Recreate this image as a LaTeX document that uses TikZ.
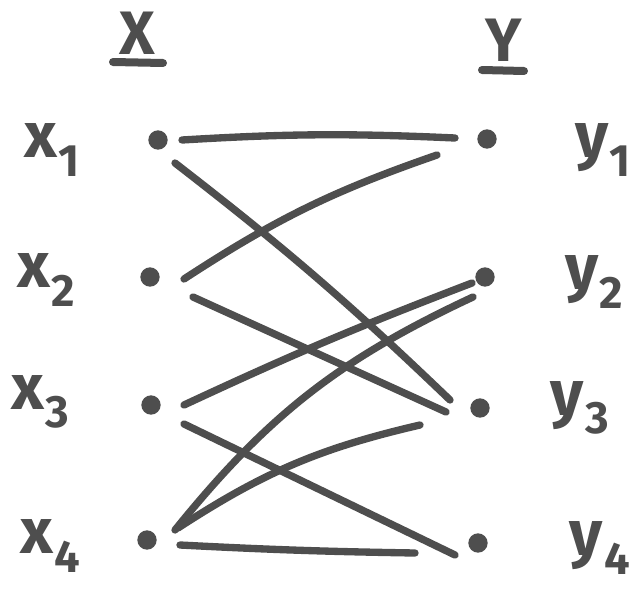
\documentclass[tikz,border=0pt]{standalone}
\usepackage{fontspec}
\setmainfont{Fira Sans}
\usetikzlibrary{calc}
\definecolor{ink}{HTML}{4E4E4E}
\newcommand{\labxy}[2]{{\fontsize{48}{48}\selectfont #1}\kern1pt\raisebox{-14pt}{\fontsize{34}{34}\selectfont #2}}
\tikzset{
  vtx/.style={circle, fill=ink, inner sep=0pt, minimum size=14.5pt},
  edg/.style={draw=ink, line width=5.5pt, line cap=round},
  lab/.style={text=ink, font=\bfseries, inner sep=0pt},
  head/.style={text=ink, font=\bfseries\fontsize{46}{46}\selectfont, inner sep=0pt},
  ul/.style={draw=ink, line width=6pt, line cap=round}
}
\begin{document}
\begin{tikzpicture}[x=0.75pt,y=-0.75pt]
\useasboundingbox (0,0) rectangle (631,592);
% headings
\node[head] (hx) at (137,33) {X};
\node[head] (hy) at (504,40) {Y};
\draw[ul] ($(hx)+(-24,29)$) -- ($(hx)+(26,30)$);
\draw[ul] ($(hy)+(-22,30)$) -- ($(hy)+(20,31)$);
% vertices
\node[vtx] (x1) at (158,140) {};
\node[vtx] (x2) at (150,277) {};
\node[vtx] (x3) at (151,405) {};
\node[vtx] (x4) at (147,540) {};
\node[vtx] (y1) at (487,139) {};
\node[vtx] (y2) at (485,277) {};
\node[vtx] (y3) at (480,408) {};
\node[vtx] (y4) at (478,543) {};
% labels
\node[lab] (lx1) at (52,150) {\labxy{x}{1}};
\node[lab] (lx2) at (46,280) {\labxy{x}{2}};
\node[lab] (lx3) at (40,402) {\labxy{x}{3}};
\node[lab] (lx4) at (50,546) {\labxy{x}{4}};
\node[lab] (ly1) at (603,150) {\labxy{y}{1}};
\node[lab] (ly2) at (594,282) {\labxy{y}{2}};
\node[lab] (ly3) at (580,408) {\labxy{y}{3}};
\node[lab] (ly4) at (600,548) {\labxy{y}{4}};
% edges
\draw[edg] ($(x1)+(24,0)$) to[bend left=3] ($(y1)+(-32,-1)$);
\draw[edg] ($(x1)+(17,23)$) to[bend left=3] ($(y3)+(-30,-8)$);
\draw[edg] ($(x2)+(34,2)$) to[bend left=7] ($(y1)+(-50,16)$);
\draw[edg] ($(x2)+(43,20)$) -- ($(y3)+(-34,4)$);
\draw[edg] ($(x3)+(33,0)$) to[bend left=2] ($(y2)+(-13,6)$);
\draw[edg] ($(x3)+(33,19)$) -- ($(y4)+(-23,12)$);
\draw[edg] ($(x4)+(28,-10)$) to[bend left=13] ($(y2)+(-12,20)$);
\draw[edg] ($(x4)+(31,-12)$) to[bend left=10] ($(y3)+(-60,17)$);
\draw[edg] ($(x4)+(33,5)$) to[bend right=1] ($(y4)+(-63,10)$);
\end{tikzpicture}
\end{document}
